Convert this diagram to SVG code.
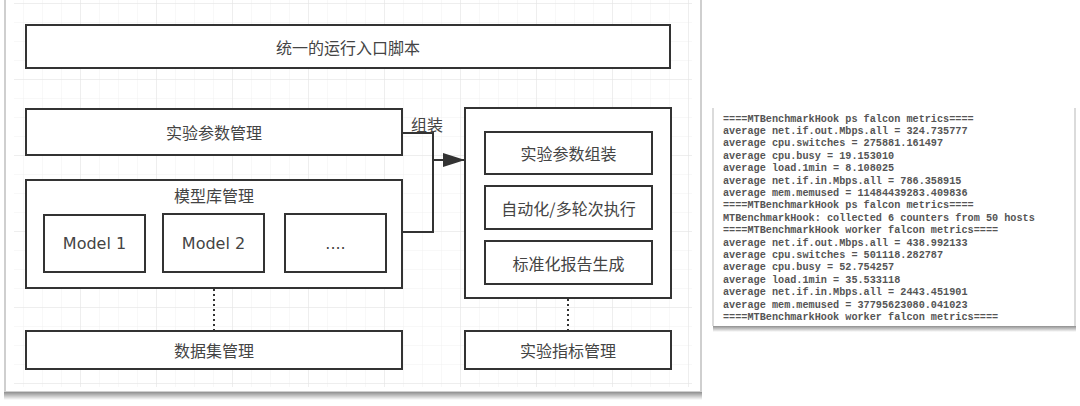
<svg xmlns="http://www.w3.org/2000/svg" width="1080" height="406" viewBox="0 0 1080 406">
  <defs>
    <style>
      .box { fill: #ffffff; stroke: #333333; stroke-width: 2; }
      .cn { font-family: "Noto Sans CJK SC", "Noto Sans", sans-serif; font-size: 16px; fill: #444444; text-anchor: middle; dominant-baseline: central; }
      .en { font-family: "DejaVu Sans", sans-serif; font-size: 16px; fill: #444444; text-anchor: middle; dominant-baseline: central; }
      .mono { font-family: "Liberation Mono", "DejaVu Sans Mono", monospace; font-size: 10.2px; fill: #555555; font-weight: bold; }
      .conn { fill: none; stroke: #333333; stroke-width: 2; }
      .dot { fill: none; stroke: #333333; stroke-width: 2; stroke-dasharray: 2 3; }
    </style>
    <pattern id="gridMinor" x="5" y="4" width="19" height="19" patternUnits="userSpaceOnUse">
      <path d="M19 0 V19 M0 19 H19" fill="none" stroke="#f0f0f0" stroke-width="1"/>
    </pattern>
    <pattern id="gridMajor" x="5" y="4" width="76" height="76" patternUnits="userSpaceOnUse">
      <path d="M76 0 V76 M0 76 H76" fill="none" stroke="#e4e4e4" stroke-width="1"/>
    </pattern>
    <linearGradient id="shadowL" x1="0" y1="0" x2="0" y2="1">
      <stop offset="0" stop-color="#8f8f8f"/>
      <stop offset="1" stop-color="#ffffff"/>
    </linearGradient>
    <marker id="arrow" viewBox="0 0 10 10" refX="10" refY="5" markerWidth="22" markerHeight="14" markerUnits="userSpaceOnUse" orient="auto" preserveAspectRatio="none">
      <path d="M0 0 L10 5 L0 10 Z" fill="#333333"/>
    </marker>
  </defs>

  <rect x="0" y="0" width="1080" height="406" fill="#ffffff"/>

  <!-- left panel -->
  <g id="panel-left">
    <rect x="5" y="-2" width="696" height="394" fill="#ffffff" stroke="#cfcfcf" stroke-width="2"/>
    <rect x="14" y="0" width="678" height="387" fill="url(#gridMinor)"/>
    <rect x="14" y="0" width="678" height="387" fill="url(#gridMajor)"/>
    <rect x="4" y="392" width="698" height="8" fill="url(#shadowL)"/>
  </g>

  <!-- right panel (console output) -->
  <g id="panel-right">
    <rect x="713" y="106" width="362" height="220" fill="#ffffff"/>
    <path d="M713 108 V326 M1075 108 V326" fill="none" stroke="#d0d0d0" stroke-width="1.5"/>
    <rect x="713" y="326" width="363" height="6" fill="url(#shadowL)"/>
    <g class="mono">
      <text x="723" y="121.5">====MTBenchmarkHook ps falcon metrics====</text>
      <text x="723" y="133.9">average net.if.out.Mbps.all = 324.735777</text>
      <text x="723" y="146.3">average cpu.switches = 275881.161497</text>
      <text x="723" y="158.7">average cpu.busy = 19.153010</text>
      <text x="723" y="171.1">average load.1min = 8.108025</text>
      <text x="723" y="183.5">average net.if.in.Mbps.all = 786.358915</text>
      <text x="723" y="195.9">average mem.memused = 11484439283.409836</text>
      <text x="723" y="208.3">====MTBenchmarkHook ps falcon metrics====</text>
      <text x="723" y="220.7">MTBenchmarkHook: collected 6 counters from 50 hosts</text>
      <text x="723" y="233.1">====MTBenchmarkHook worker falcon metrics====</text>
      <text x="723" y="245.5">average net.if.out.Mbps.all = 438.992133</text>
      <text x="723" y="257.9">average cpu.switches = 501118.282787</text>
      <text x="723" y="270.3">average cpu.busy = 52.754257</text>
      <text x="723" y="282.7">average load.1min = 35.533118</text>
      <text x="723" y="295.1">average net.if.in.Mbps.all = 2443.451901</text>
      <text x="723" y="307.5">average mem.memused = 37795623080.041023</text>
      <text x="723" y="319.9">====MTBenchmarkHook worker falcon metrics====</text>
    </g>
  </g>

  <!-- nodes -->
  <g id="entry">
    <rect class="box" x="26" y="25" width="644" height="43"/>
    <text class="cn" x="348" y="47">统一的运行入口脚本</text>
  </g>
  <g id="param-mgmt">
    <rect class="box" x="26" y="109" width="376" height="46"/>
    <text class="cn" x="214" y="132">实验参数管理</text>
  </g>
  <g id="model-lib">
    <rect class="box" x="26" y="180" width="376" height="108"/>
    <text class="cn" x="214" y="195">模型库管理</text>
  </g>
  <g id="model1">
    <rect class="box" x="44" y="215" width="101" height="57"/>
    <text class="en" x="94.5" y="243.5">Model 1</text>
  </g>
  <g id="model2">
    <rect class="box" x="163" y="214" width="101" height="58"/>
    <text class="en" x="213.5" y="243">Model 2</text>
  </g>
  <g id="model-more">
    <rect class="box" x="285" y="214" width="101" height="58"/>
    <text class="en" x="335.5" y="243">....</text>
  </g>
  <g id="dataset-mgmt">
    <rect class="box" x="26" y="331" width="376" height="38"/>
    <text class="cn" x="214" y="350">数据集管理</text>
  </g>
  <g id="exec-container">
    <rect class="box" x="465" y="108" width="206" height="190"/>
  </g>
  <g id="param-assemble">
    <rect class="box" x="485" y="132" width="167" height="42"/>
    <text class="cn" x="568.5" y="153">实验参数组装</text>
  </g>
  <g id="auto-exec">
    <rect class="box" x="485" y="186" width="167" height="43"/>
    <text class="cn" x="568.5" y="207.5">自动化/多轮次执行</text>
  </g>
  <g id="report">
    <rect class="box" x="485" y="241" width="167" height="43"/>
    <text class="cn" x="568.5" y="262.5">标准化报告生成</text>
  </g>
  <g id="metric-mgmt">
    <rect class="box" x="465" y="331" width="206" height="38"/>
    <text class="cn" x="568" y="350">实验指标管理</text>
  </g>

  <!-- connectors -->
  <g id="connectors">
    <polyline class="conn" points="402,133 433,133 433,232 402,232"/>
    <line class="conn" x1="433" y1="160" x2="465" y2="160" marker-end="url(#arrow)"/>
    <text class="cn" x="427" y="124">组装</text>
    <line class="dot" x1="214" y1="289" x2="214" y2="330"/>
    <line class="dot" x1="568" y1="299" x2="568" y2="330"/>
  </g>
</svg>
